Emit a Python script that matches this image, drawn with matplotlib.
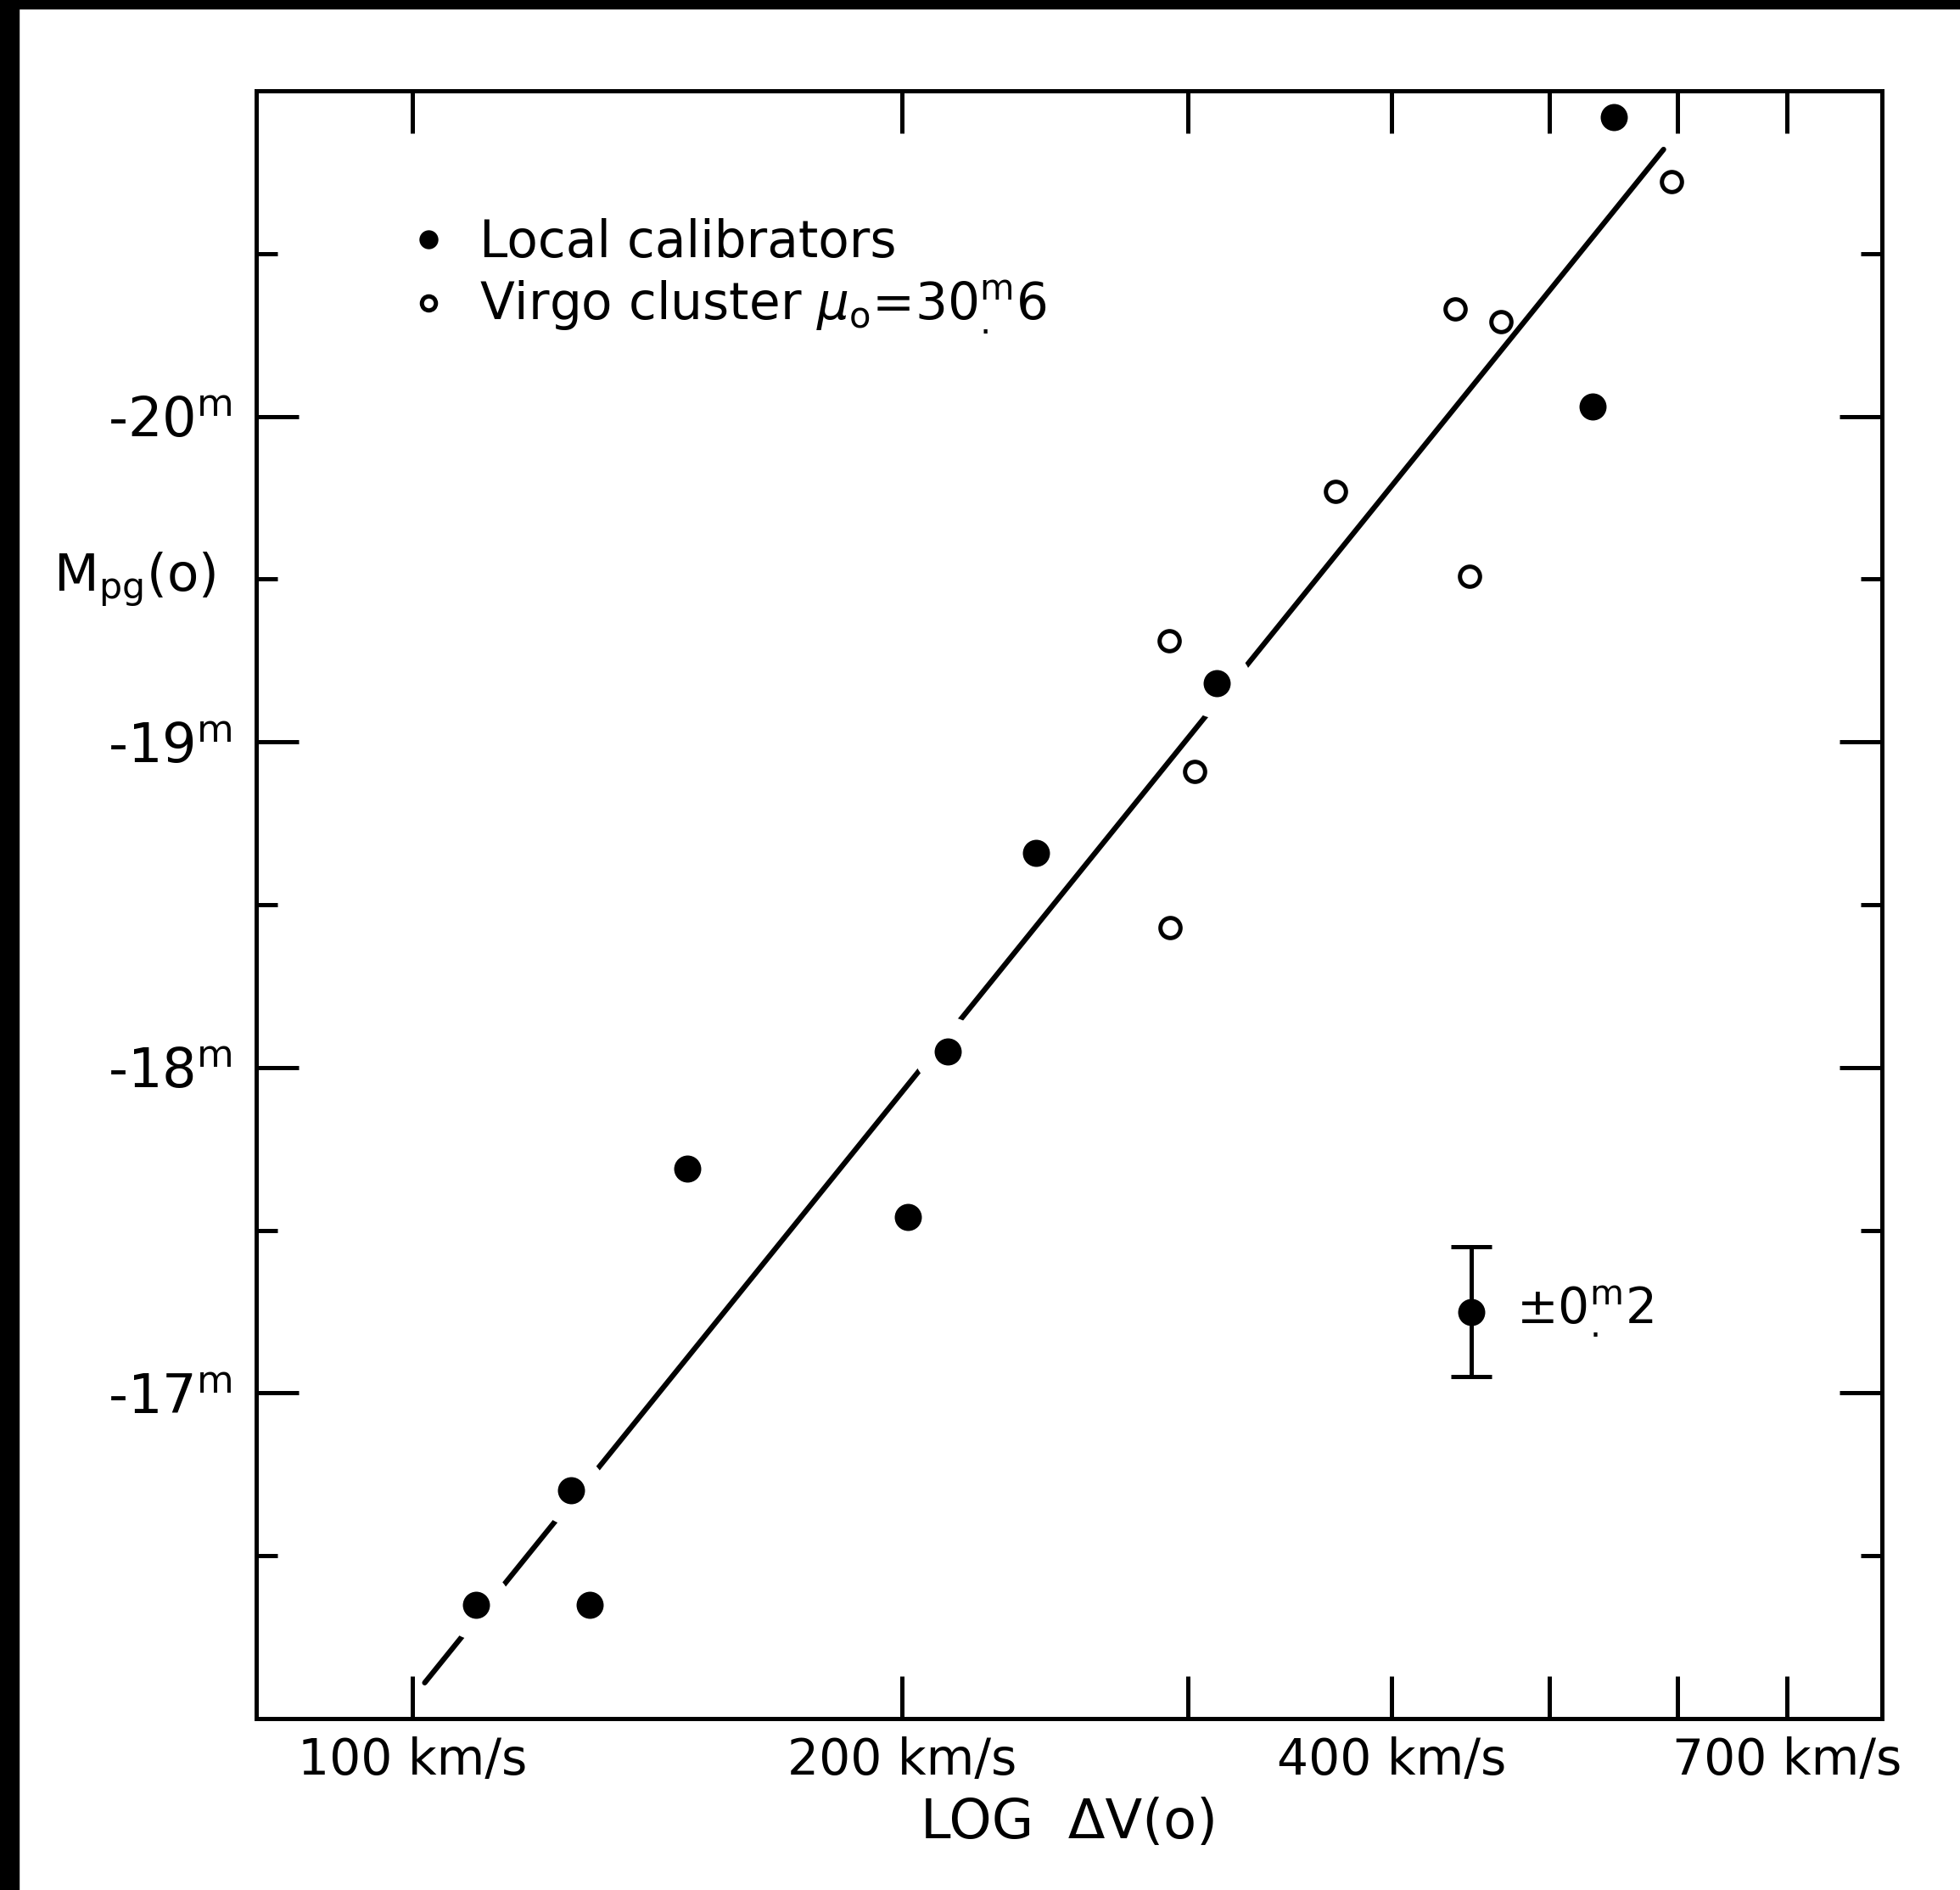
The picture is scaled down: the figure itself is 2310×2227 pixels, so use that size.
import numpy as np
import matplotlib
matplotlib.use('Agg')
import matplotlib.pyplot as plt
from matplotlib.patches import Rectangle
from matplotlib.ticker import FixedLocator, FixedFormatter, NullLocator

# local calibrators (filled dots)
local_v = [109.5, 125.2, 128.6, 147.7, 201.7, 213.4, 242.0, 312.4, 532.0, 548.0]
local_m = [-16.35, -16.70, -16.35, -17.69, -17.54, -18.05, -18.66, -19.18, -20.03, -20.92]

# Virgo cluster galaxies (open circles)
virgo_v = [292.0, 302.6, 292.5, 369.6, 438.0, 467.0, 447.0, 595.0]
virgo_m = [-19.31, -18.91, -18.43, -19.77, -20.33, -20.29, -19.51, -20.72]

# adopted relation, end points
fit_v = [101.8, 588.0]
fit_m = [-16.11, -20.82]

# typical error
err_v = [448.0]
err_m = [-17.25]
err_size = 0.2

xtick_vals = [100, 200, 300, 400, 500, 600, 700]
xtick_labels = ['100 km/s', '200 km/s', '', '400 km/s', '', '', '700 km/s']
ytick_major = [-20, -19, -18, -17]
ytick_labels = ['-20$^{\\rm m}$', '-19$^{\\rm m}$', '-18$^{\\rm m}$', '-17$^{\\rm m}$']
ytick_minor = [-20.5, -19.5, -18.5, -17.5, -16.5]

plt.rcParams['font.family'] = ['DejaVu Sans']
plt.rcParams['mathtext.fontset'] = 'dejavusans'

W, H = 2310, 2227
fig = plt.figure(figsize=(W / 100, H / 100), dpi=100)
fig.patch.set_facecolor('white')
ax = fig.add_axes([302 / W, 1 - 2025 / H, (2218 - 302) / W, (2025 - 107) / H])

# scan borders
fig.add_artist(Rectangle((0, 0), 22 / W, 1, transform=fig.transFigure, color='black', zorder=10))
fig.add_artist(Rectangle((0, 1 - 10 / H), 1, 10 / H, transform=fig.transFigure, color='black', zorder=10))

ax.set_xscale('log')
ax.set_xlim(80.2, 801)
ax.set_ylim(-16.0, -21.0)
ax.set_axisbelow(False)

# fit line, broken where it runs through the calibrators
ax.plot(fit_v, fit_m, color='black', lw=4.5, solid_capstyle='round', zorder=2)
ax.plot(local_v, local_m, 'o', ms=59, color='white', mec='none', zorder=2.2)

ax.plot(local_v, local_m, 'o', ms=23, color='black', mec='none', zorder=3,
        label='Local calibrators')
ax.plot(virgo_v, virgo_m, 'o', ms=17, mfc='white', mec='black', mew=3.6, zorder=3,
        label='Virgo cluster $\\mu_{\\rm o}$=30$^{\\rm m}_{.}$6')

ax.errorbar(err_v, err_m, yerr=err_size, fmt='o', ms=23, color='black', mec='none',
            elinewidth=3.6, capsize=17, capthick=3.6, zorder=3)
ax.annotate('\u00b10$^{\\rm m}_{.}$2', (err_v[0], err_m[0]), xytext=(38, 0),
            textcoords='offset points', fontsize=42, va='center', ha='left')

ax.legend(loc='upper left', bbox_to_anchor=(0.0966, 0.922), frameon=False, fontsize=43,
          markerscale=0.7, handlelength=0.6, handletextpad=0.7, labelspacing=0.22,
          borderpad=0, borderaxespad=0)

# axes styling
for sp in ax.spines.values():
    sp.set_linewidth(3.6)

ax.xaxis.set_major_locator(FixedLocator(xtick_vals))
ax.xaxis.set_major_formatter(FixedFormatter(xtick_labels))
ax.xaxis.set_minor_locator(NullLocator())
ax.yaxis.set_major_locator(FixedLocator(ytick_major))
ax.yaxis.set_major_formatter(FixedFormatter(ytick_labels))
ax.yaxis.set_minor_locator(FixedLocator(ytick_minor))

ax.tick_params(which='both', direction='in', top=True, bottom=True, left=True, right=True,
               width=3.6, colors='black')
ax.tick_params(which='major', length=36)
ax.tick_params(which='minor', length=18)
ax.tick_params(axis='x', labelsize=42, pad=15)
ax.tick_params(axis='y', labelsize=46, pad=20)

ax.set_xlabel('LOG  \u0394V(o)', fontsize=46, labelpad=10)
ax.text(-0.025, -19.5, 'M$_{\\rm pg}$(o)', transform=ax.get_yaxis_transform(),
        fontsize=44, ha='right', va='center')

fig.savefig('out.png', dpi=100, facecolor='white')
